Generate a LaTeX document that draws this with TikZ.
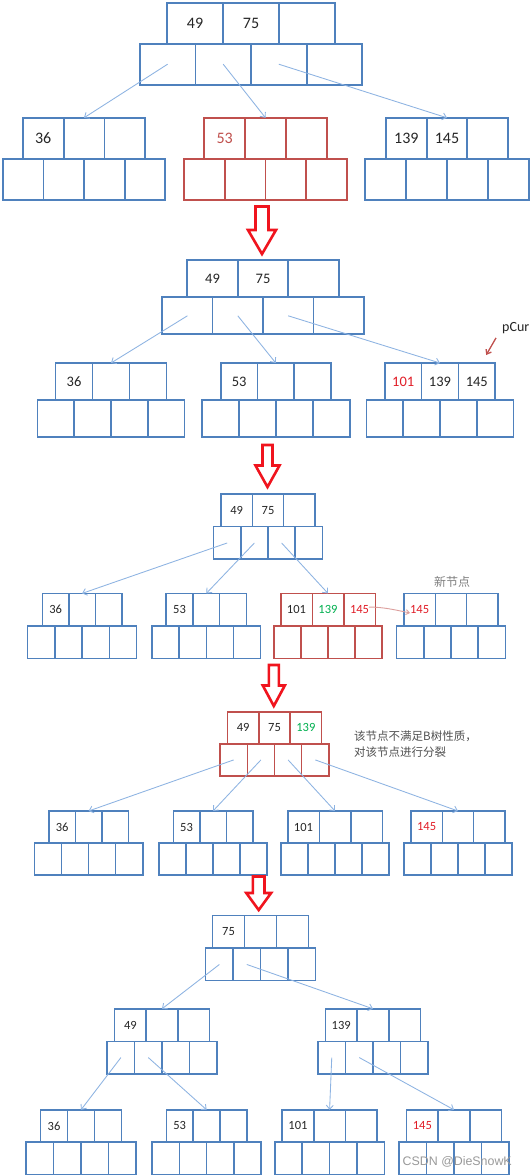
\documentclass[tikz,border=0pt]{standalone}
\usepackage{fontspec}
\setmainfont{Carlito}
\newfontfamily\cjk{Noto Sans CJK SC}
\newfontfamily\wmfont{Liberation Sans}
\usetikzlibrary{arrows.meta}

\definecolor{bblue}{RGB}{79,129,189}
\definecolor{bred}{RGB}{192,80,77}
\definecolor{lblue}{RGB}{141,179,226}
\definecolor{bigred}{RGB}{240,20,30}
\definecolor{kblack}{RGB}{38,38,38}
\definecolor{kred}{RGB}{225,30,40}
\definecolor{kgreen}{RGB}{0,176,80}
\definecolor{notegray}{RGB}{80,80,80}

% one B-tree node: 3 key cells over 4 pointer cells
\newcommand{\bnode}[9][cell]{%
  \node[#1, minimum width=#4pt, minimum height=#6pt, anchor=north] (#2-k2) at #3 {#8};
  \node[#1, minimum width=#4pt, minimum height=#6pt, anchor=east] (#2-k1) at (#2-k2.west) {#7};
  \node[#1, minimum width=#4pt, minimum height=#6pt, anchor=west] (#2-k3) at (#2-k2.east) {#9};
  \node[#1, minimum width=#5pt, minimum height=#6pt, anchor=north east] (#2-p2) at (#2-k2.south) {};
  \node[#1, minimum width=#5pt, minimum height=#6pt, anchor=north west] (#2-p3) at (#2-k2.south) {};
  \node[#1, minimum width=#5pt, minimum height=#6pt, anchor=east] (#2-p1) at (#2-p2.west) {};
  \node[#1, minimum width=#5pt, minimum height=#6pt, anchor=west] (#2-p4) at (#2-p3.east) {};
}

\begin{document}
\begin{tikzpicture}[x=1pt, y=-1pt,
  cell/.style={draw=bblue, line width=1.5pt, outer sep=0pt, inner sep=0pt, text=kblack},
  rcell/.style={cell, draw=bred},
  lvA/.style={line width=1.8pt, font=\fontsize{16}{18}\selectfont},
  lvB/.style={line width=1.7pt, font=\fontsize{14.5}{16}\selectfont},
  lvC/.style={font=\fontsize{12.5}{14}\selectfont},
  link/.style={draw=lblue, line width=0.85pt, -{Straight Barb[length=4pt,width=7pt]}},
  rlink/.style={draw=bred!55, line width=0.9pt, -{Straight Barb[length=3.5pt,width=5pt]}},
  ptr/.style={draw=bred, line width=1.3pt, -{Straight Barb[length=4pt,width=6pt]}},
  bigarr/.style={draw=bigred, line width=2.6pt, fill=white, line join=miter},
  note/.style={font=\cjk\fontsize{11.5}{15.7}\selectfont, text=notegray, inner sep=0pt}
]
\fill[white] (0,0) rectangle (531,1176);
\useasboundingbox (0,0) rectangle (531,1176);

% step 1
\bnode[cell,lvA]{a0}{(251,2.7)}{55.9}{55.6}{41}{49}{75}{}
\bnode[cell,lvA]{a1}{(84,117.8)}{40.8}{40.6}{41}{36}{}{}
\bnode[rcell,lvA]{a2}{(265.5,117.8)}{40.8}{40.8}{41}{\color{bred}53}{}{}
\bnode[cell,lvA]{a3}{(447,117.8)}{40.7}{41}{41}{139}{145}{}
\draw[link] (a0-p1.center) -- (a1-k2.north);
\draw[link] (a0-p2.center) -- (a2-k2.north);
\draw[link] (a0-p3.center) -- (a3-k2.north);

% step 2
\bnode[cell,lvB]{b0}{(263,260.3)}{50.5}{50.4}{37}{49}{75}{}
\bnode[cell,lvB]{b1}{(111,363)}{37}{36.8}{37}{36}{}{}
\bnode[cell,lvB]{b2}{(275.8,363)}{36.7}{37}{37}{53}{}{}
\bnode[cell,lvB]{b3}{(440,363)}{36.8}{36.7}{37}{\color{kred}101}{139}{145}
\draw[link] (b0-p1.center) -- (b1-k2.north);
\draw[link] (b0-p2.center) -- (b2-k2.north);
\draw[link] (b0-p3.center) -- (b3-k2.north);
\node[anchor=west, inner sep=0pt, text=kblack, font=\fontsize{14}{16}\selectfont] (pcur) at (502,328) {pCur};
\draw[ptr] ([shift={(-6,4)}]pcur.south west) -- ([shift={(-9,-8)}]b3-k3.north east);

% step 3
\bnode[cell,lvC]{c0}{(268,494.2)}{31.4}{27.2}{32.5}{49}{75}{}
\bnode[cell,lvC]{c1}{(82.1,593.4)}{26.5}{27.2}{32.5}{36}{}{}
\bnode[cell,lvC]{c2}{(206.3,593.4)}{26.8}{27.1}{32.5}{53}{}{}
\bnode[rcell,lvC]{c3}{(328,593.4)}{31.5}{27.1}{32.5}{101}{\color{kgreen}139}{\color{kred}145}
\bnode[cell,lvC]{c4}{(451,593.4)}{31.4}{27.2}{32.5}{\color{kred}145}{}{}
\draw[link] (c0-p1.center) -- (c1-k2.north);
\draw[link] (c0-p2.center) -- (c2-k2.north);
\draw[link] (c0-p3.center) -- (c3-k2.north);
\draw[rlink] ([shift={(9.5,-2.6)}]c3-k3.center) .. controls +(15,0) and +(-15,-3) .. ([shift={(-9.5,3.3)}]c4-k1.center);
\node[note, font=\cjk\fontsize{12}{14}\selectfont, text=gray] (newlbl) at (452,581.5) {新节点};

% step 4
\bnode[rcell,lvC]{d0}{(274.5,711.9)}{31.4}{27.2}{32}{49}{75}{\color{kgreen}139}
\bnode[cell,lvC]{d1}{(88.6,811)}{26.5}{27.1}{32}{36}{}{}
\bnode[cell,lvC]{d2}{(213,811)}{26.5}{27.1}{32}{53}{}{}
\bnode[cell,lvC]{d3}{(335,811)}{31.5}{27.1}{32}{101}{}{}
\bnode[cell,lvC]{d4}{(458,811)}{31.4}{27.1}{32}{\color{kred}145}{}{}
\draw[link] (d0-p1.center) -- (d1-k2.north);
\draw[link] (d0-p2.center) -- (d2-k2.north);
\draw[link] (d0-p3.center) -- (d3-k2.north);
\draw[link] (d0-p4.center) -- (d4-k2.north);
\node[note, anchor=west, align=left] (splitnote) at (354,744) {该节点不满足B树性质，\\对该节点进行分裂};

% step 5
\bnode[cell,lvC]{e0}{(260.5,915.7)}{32}{27.4}{32.5}{75}{}{}
\bnode[cell,lvC]{e1}{(162,1008.8)}{31.6}{27.4}{32.5}{49}{}{}
\bnode[cell,lvC]{e2}{(373,1008.8)}{31.8}{27.5}{32.5}{139}{}{}
\bnode[cell,lvC]{e3}{(81,1109.8)}{27}{27.5}{32.3}{36}{}{}
\bnode[cell,lvC]{e4}{(206.6,1109.8)}{26.9}{27.3}{32.3}{53}{}{}
\bnode[cell,lvC]{e5}{(329.6,1109.8)}{31.6}{27.4}{32.3}{101}{}{}
\bnode[cell,lvC]{e6}{(454,1109.8)}{31.6}{27.4}{32.3}{\color{kred}145}{}{}
\draw[link] (e0-p1.center) -- (e1-k2.north);
\draw[link] (e0-p2.center) -- (e2-k2.north);
\draw[link] (e1-p1.center) -- (e3-k2.north);
\draw[link] (e1-p2.center) -- (e4-k2.north);
\draw[link] (e2-p1.center) -- (e5-k2.north);
\draw[link] (e2-p2.center) -- (e6-k2.north);
\node[anchor=west, inner sep=0pt, text=black!40, font=\wmfont\fontsize{12.4}{14}\selectfont] (wmark) at (402.5,1161.7) {CSDN @DieSnowK};

% hollow arrows between the steps
\foreach \x/\t/\h/\b/\s/\w in {262/206.5/230/254/6.5/14, 267.5/445/465.5/487/5/12,
                                273.8/665/685.5/706/5/11, 258.7/876.5/893/910/5.8/12.4}
  \draw[bigarr] (\x-\s,\t) -- (\x+\s,\t) -- (\x+\s,\h) -- (\x+\w,\h) -- (\x,\b)
                -- (\x-\w,\h) -- (\x-\s,\h) -- cycle;
\end{tikzpicture}
\end{document}
